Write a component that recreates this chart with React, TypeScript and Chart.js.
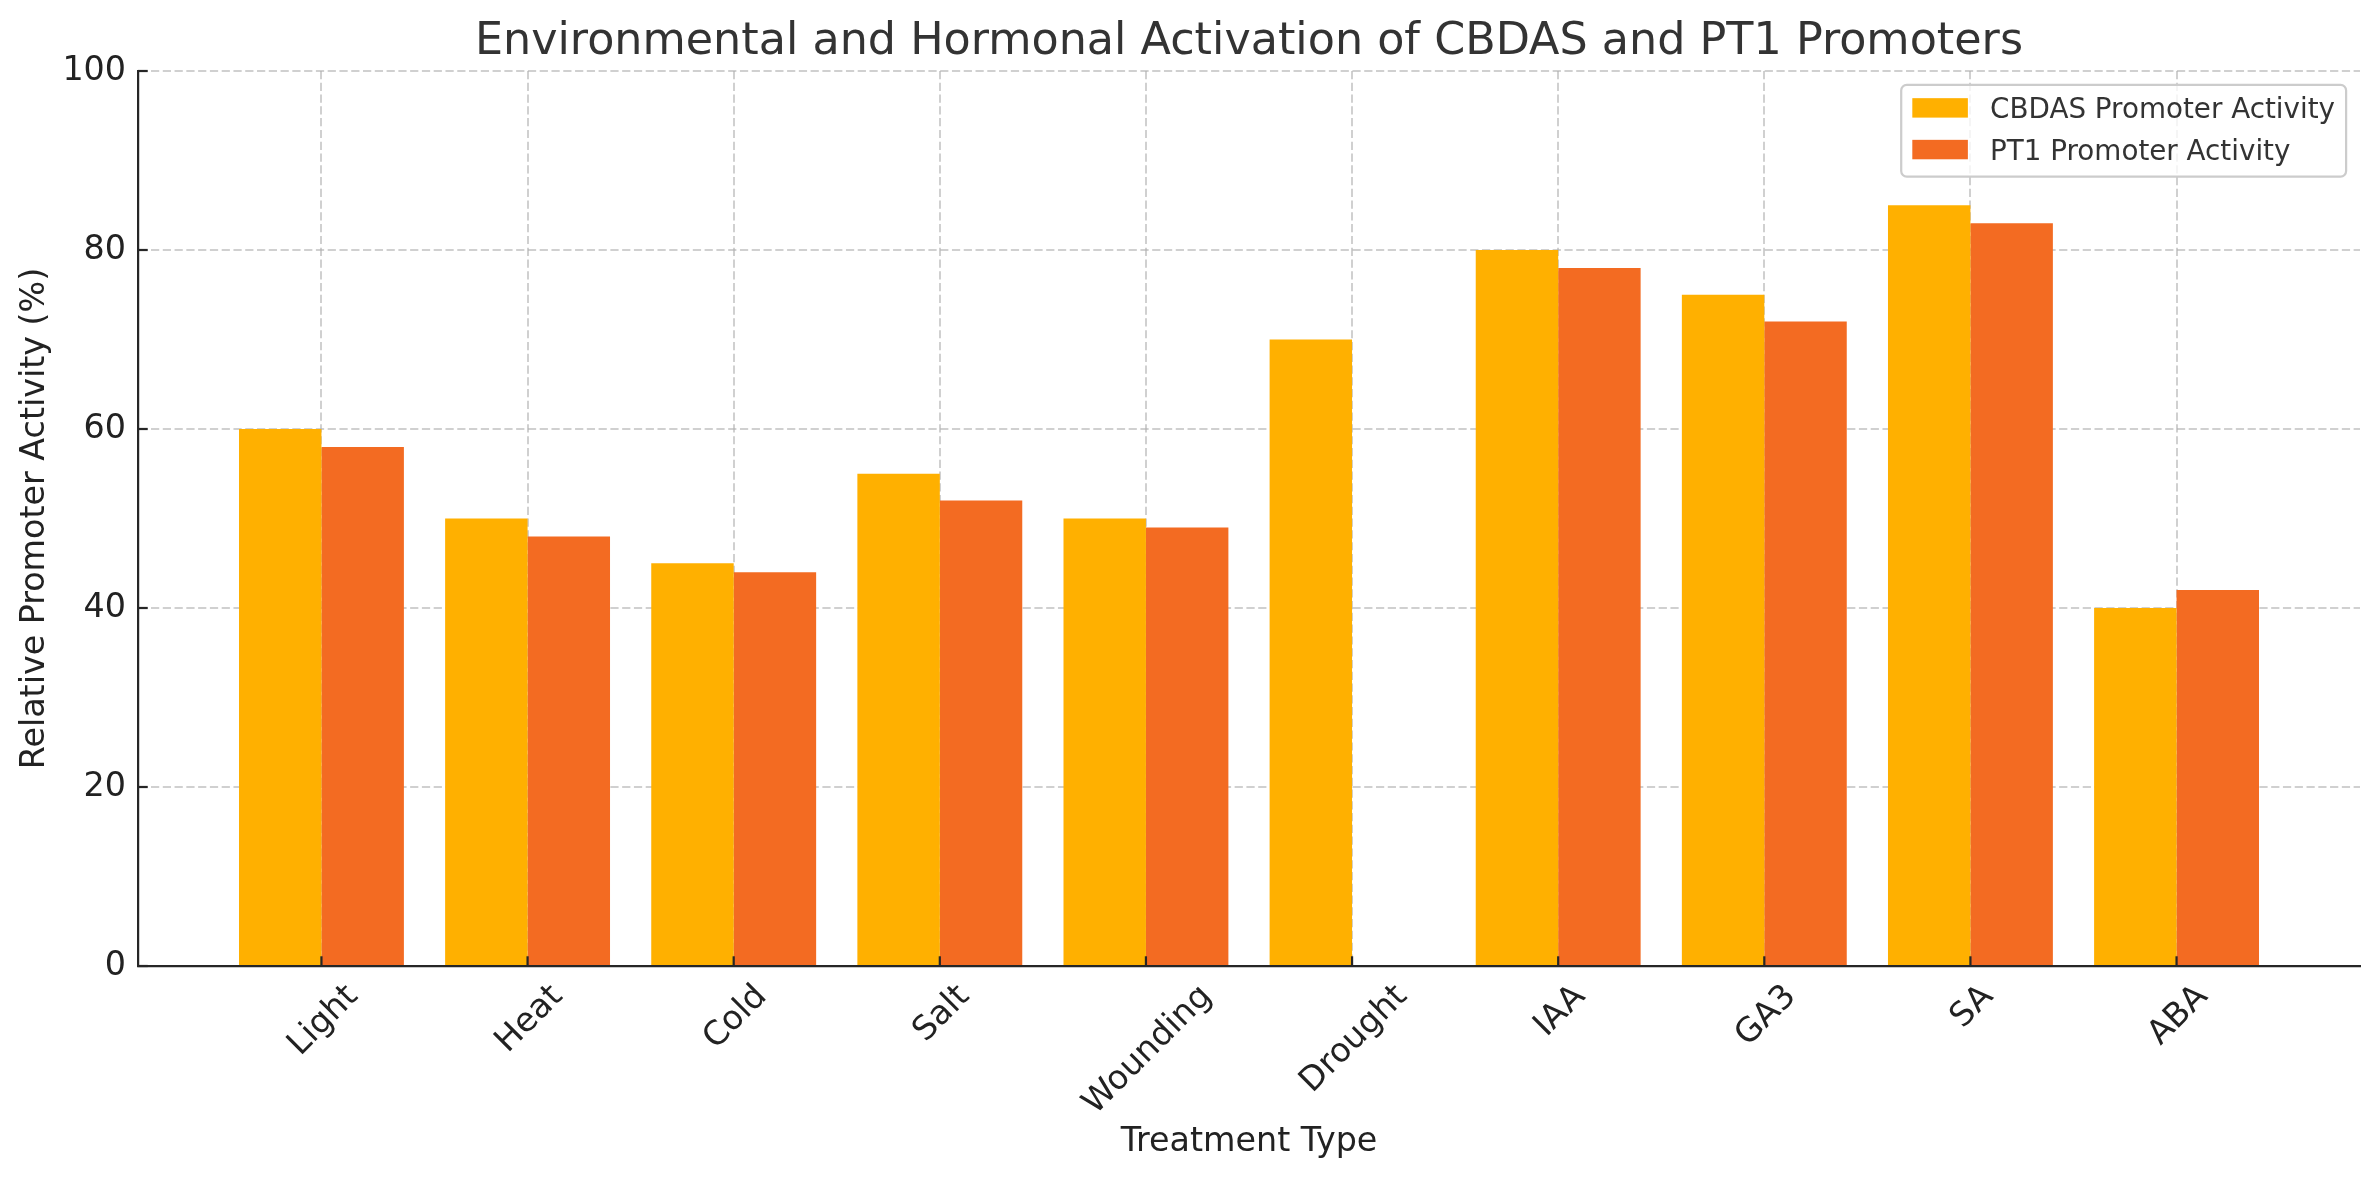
import { useEffect, useRef } from "react"
import { Chart, type ChartConfiguration, type Plugin, registerables } from "chart.js"

Chart.register(...registerables)

const treatments = ["Light", "Heat", "Cold", "Salt", "Wounding", "Drought", "IAA", "GA3", "SA", "ABA"]
const cbdasActivity = [60, 50, 45, 55, 50, 70, 80, 75, 85, 40]
const pt1Activity: (number | null)[] = [58, 48, 44, 52, 49, null, 78, 72, 83, 42]
const yTicks = [0, 20, 40, 60, 80, 100]

const seriesLabels = ["CBDAS Promoter Activity", "PT1 Promoter Activity"]
const seriesColors = ["#FFB000", "#F36B22"]

const FONT = '"DejaVu Sans", "Liberation Sans", sans-serif'
const PT = 2.778 // px per point (figure was 200 dpi)
const AXIS_COLOR = "#262626"
const GRID_COLOR = "rgba(176, 176, 176, 0.6)"
const LINE_W = 0.8 * PT
const GRID_W = 2
const TICK_LEN = 3.5 * PT
const TICK_SIZE = 12 * PT
const LEGEND_SIZE = 10 * PT
const TITLE_SIZE = 16 * PT

// inward ticks, rotated category labels, title and legend
const overlayPlugin: Plugin<"bar"> = {
  id: "overlay",
  afterDraw(chart) {
    const { ctx, chartArea } = chart
    const xScale = chart.scales.x
    const yScale = chart.scales.y
    ctx.save()

    // tick marks pointing into the plot
    ctx.strokeStyle = AXIS_COLOR
    ctx.lineWidth = LINE_W
    xScale.ticks.forEach((t) => {
      const px = xScale.getPixelForValue(t.value)
      ctx.beginPath()
      ctx.moveTo(px, chartArea.bottom)
      ctx.lineTo(px, chartArea.bottom - TICK_LEN)
      ctx.stroke()
    })
    yScale.ticks.forEach((t) => {
      const py = yScale.getPixelForValue(t.value)
      ctx.beginPath()
      ctx.moveTo(chartArea.left, py)
      ctx.lineTo(chartArea.left + TICK_LEN, py)
      ctx.stroke()
    })

    // x labels, rotated 45deg and centred under the tick
    ctx.font = `${TICK_SIZE}px ${FONT}`
    ctx.fillStyle = "#222222"
    ctx.textAlign = "center"
    ctx.textBaseline = "alphabetic"
    const textH = 1.164 * TICK_SIZE
    treatments.forEach((label, i) => {
      const px = xScale.getPixelForValue(i)
      const w = ctx.measureText(label).width
      const half = ((w + textH) * Math.SQRT1_2) / 2
      const cy = chartArea.bottom + TICK_LEN + half
      ctx.save()
      ctx.translate(px, cy)
      ctx.rotate(-Math.PI / 4)
      ctx.fillText(label, 0, 0.346 * TICK_SIZE)
      ctx.restore()
    })

    // title
    ctx.font = `${TITLE_SIZE}px ${FONT}`
    ctx.fillStyle = "#333333"
    ctx.fillText(
      "Environmental and Hormonal Activation of CBDAS and PT1 Promoters",
      (chartArea.left + chartArea.right) / 2,
      chartArea.top - 6 * PT
    )

    // legend, upper right
    const fs = LEGEND_SIZE
    ctx.font = `${fs}px ${FONT}`
    const textW = Math.max(...seriesLabels.map((l) => ctx.measureText(l).width))
    const pad = 0.4 * fs
    const handleW = 2 * fs
    const handleH = 0.7 * fs
    const gap = 0.8 * fs
    const rowH = fs
    const spacing = 0.5 * fs
    const boxW = pad + handleW + gap + textW + pad
    const boxH = 2 * pad + 2 * rowH + spacing
    const boxX = chartArea.right - 0.5 * fs - boxW
    const boxY = chartArea.top + 0.5 * fs
    ctx.beginPath()
    ctx.roundRect(boxX, boxY, boxW, boxH, 0.2 * fs)
    ctx.fillStyle = "rgba(255, 255, 255, 0.8)"
    ctx.fill()
    ctx.strokeStyle = "#cccccc"
    ctx.lineWidth = LINE_W
    ctx.stroke()
    ctx.textAlign = "left"
    seriesLabels.forEach((label, i) => {
      const cy = boxY + pad + rowH / 2 - 2 + i * (rowH + spacing)
      ctx.fillStyle = seriesColors[i]
      ctx.fillRect(boxX + pad, cy - handleH / 2, handleW, handleH)
      ctx.fillStyle = "#333333"
      ctx.fillText(label, boxX + pad + handleW + gap, cy + 0.3645 * fs)
    })

    ctx.restore()
  },
}

export default function App() {
  const chartRef = useRef<HTMLCanvasElement>(null)

  useEffect(() => {
    if (!chartRef.current) return
    const ctx = chartRef.current.getContext("2d")
    if (!ctx) return

    const config = {
      type: "bar",
      data: {
        datasets: [
          {
            label: seriesLabels[0],
            data: treatments.map((_, i) => ({ x: i, y: cbdasActivity[i] })),
            backgroundColor: seriesColors[0],
            borderWidth: 0,
          },
          {
            label: seriesLabels[1],
            data: treatments.map((_, i) => ({ x: i, y: pt1Activity[i] })),
            backgroundColor: seriesColors[1],
            borderWidth: 0,
          },
        ],
      },
      options: {
        animation: false,
        responsive: false,
        devicePixelRatio: 1,
        categoryPercentage: 0.8,
        barPercentage: 1,
        layout: { padding: { top: 71, right: 19, left: 0, bottom: 0 } },
        plugins: {
          legend: { display: false },
          tooltip: { enabled: false },
          title: { display: false },
        },
        scales: {
          x: {
            type: "linear",
            min: -0.89,
            max: 9.89,
            bounds: "data",
            offset: false,
            z: 1,
            afterBuildTicks: (scale: any) => {
              scale.ticks = treatments.map((_, i) => ({ value: i }))
            },
            afterFit: (scale: any) => {
              scale.height = 214
            },
            ticks: { display: false },
            grid: {
              offset: false,
              color: GRID_COLOR,
              lineWidth: GRID_W,
              drawTicks: false,
            },
            border: { display: true, color: AXIS_COLOR, width: LINE_W, dash: [3.7 * LINE_W, 1.6 * LINE_W] },
            title: {
              display: true,
              text: "Treatment Type",
              color: "#222222",
              font: { family: FONT, size: TICK_SIZE },
              padding: { top: 0, bottom: 18 },
            },
          },
          y: {
            type: "linear",
            min: yTicks[0],
            max: yTicks[yTicks.length - 1],
            z: 1,
            afterBuildTicks: (scale: any) => {
              scale.ticks = yTicks.map((v) => ({ value: v }))
            },
            afterFit: (scale: any) => {
              scale.width = 138
            },
            ticks: {
              color: "#222222",
              font: { family: FONT, size: TICK_SIZE },
              padding: 12,
            },
            grid: {
              color: GRID_COLOR,
              lineWidth: GRID_W,
              drawTicks: false,
            },
            border: { display: true, color: AXIS_COLOR, width: LINE_W, dash: [3.7 * LINE_W, 1.6 * LINE_W] },
            title: {
              display: true,
              text: "Relative Promoter Activity (%)",
              color: "#222222",
              font: { family: FONT, size: TICK_SIZE },
              padding: { top: 15, bottom: 0 },
            },
          },
        },
      },
      plugins: [overlayPlugin],
    } as ChartConfiguration<"bar">

    const chart = new Chart(ctx, config)

    return () => {
      chart.destroy()
    }
  }, [])

  return (
    <div style={{ position: "fixed", left: 0, top: 0, width: 2379, height: 1180, background: "#ffffff" }}>
      <canvas ref={chartRef} width={2379} height={1180} />
    </div>
  )
}
